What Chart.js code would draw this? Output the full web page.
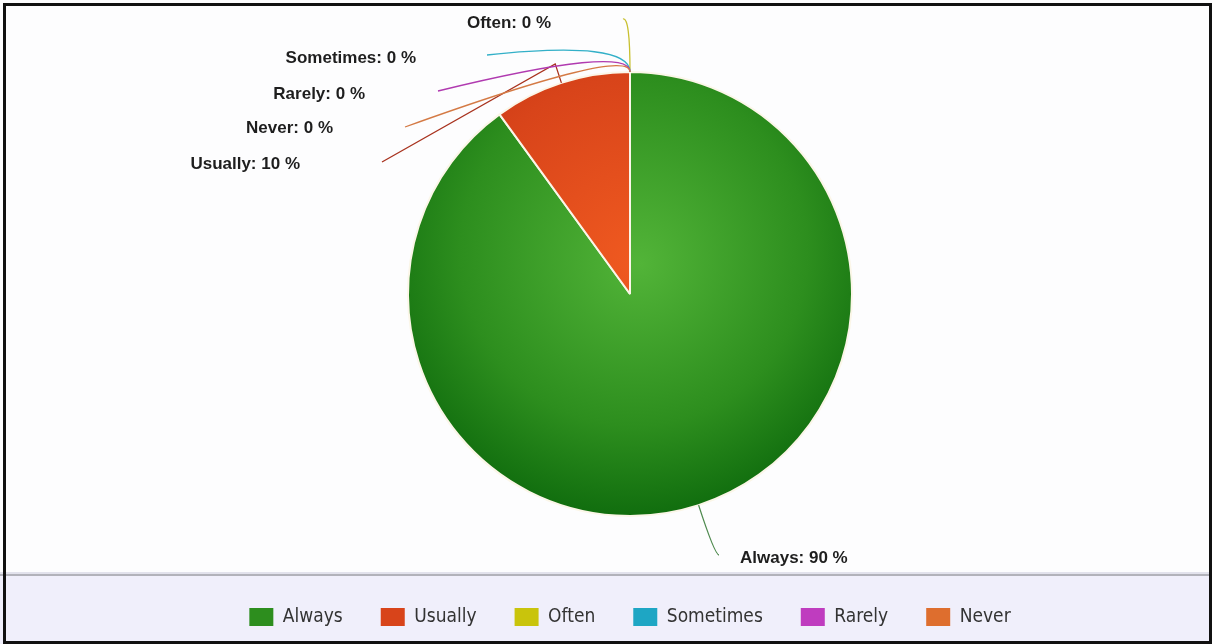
<!DOCTYPE html>
<html>
<head>
<meta charset="utf-8">
<script src="https://cdn.jsdelivr.net/npm/chart.js@4.4.0/dist/chart.umd.min.js"></script>
<style>
  html, body { margin: 0; padding: 0; background: #fff; }
  #wrap { width: 1212px; height: 644px; }
</style>
</head>
<body>
<div id="wrap"><canvas id="pieChart" width="1212" height="644"></canvas></div>
<script>
const categories = ['Always', 'Usually', 'Often', 'Sometimes', 'Rarely', 'Never'];
const percentValues = [90, 10, 0, 0, 0, 0];

const sliceColors = ['#2d8e1e', '#d8441a', '#c9c40c', '#1ea6c4', '#bf3cbf', '#de6e2e'];
const sliceInner = ['#52b438', '#f05a20', '#e0dc30', '#40c0dc', '#d860d8', '#f08848'];
const sliceOuter = ['#0b670b', '#c0300e', '#a8a000', '#10809c', '#982898', '#b85018'];
const lineColors = ['#4f8a4f', '#a8321e', '#c8c030', '#33b0c8', '#b03ab0', '#d47a45'];

// where each label sits, measured from the pie centre
const labelSpots = [
  { tx: 110, ty: 264, align: 'left', ex: 89, ey: 261, bend: 52 },
  { tx: -330, ty: -130, align: 'right', ex: -248, ey: -132, bend: 20, kink: true },
  { tx: -79, ty: -271, align: 'right', ex: -7, ey: -275, bend: 55 },
  { tx: -214, ty: -236, align: 'right', ex: -143, ey: -239, bend: 32 },
  { tx: -265, ty: -200, align: 'right', ex: -192, ey: -203, bend: 28 },
  { tx: -297, ty: -166, align: 'right', ex: -225, ey: -167, bend: 26 },
];

function sliceFill(context) {
  const { chart, dataIndex } = context;
  const area = chart.chartArea;
  if (!area) return sliceColors[dataIndex];
  const cx = (area.left + area.right) / 2;
  const cy = (area.top + area.bottom) / 2;
  const g = chart.ctx.createRadialGradient(cx + 10, cy - 30, 0, cx, cy - 50, 290);
  g.addColorStop(0, sliceInner[dataIndex]);
  g.addColorStop(0.6, sliceColors[dataIndex]);
  g.addColorStop(1, sliceOuter[dataIndex]);
  return g;
}

const framePlugin = {
  id: 'frame',
  beforeDraw(chart) {
    const { ctx, width, height } = chart;
    ctx.save();
    ctx.fillStyle = '#fdfdfe';
    ctx.fillRect(0, 0, width, height);
    // legend band
    ctx.fillStyle = '#f0effb';
    ctx.fillRect(0, 576, width, height - 576);
    ctx.fillStyle = '#e2e2ec';
    ctx.fillRect(0, 572, width, 2);
    ctx.fillStyle = '#b2b2ba';
    ctx.fillRect(0, 574, width, 2);
    // outer black frame
    ctx.fillStyle = '#111';
    ctx.fillRect(3, 3, width - 3, 3);
    ctx.fillRect(3, 3, 3, height - 3);
    ctx.fillRect(width - 3, 3, 3, height - 3);
    ctx.fillRect(3, height - 3, width - 3, 3);
    ctx.restore();
  },
};

const leaderPlugin = {
  id: 'leaders',
  afterDatasetsDraw(chart) {
    const { ctx } = chart;
    const arcs = chart.getDatasetMeta(0).data;
    ctx.save();
    ctx.font = 'bold 17px "Liberation Sans", Arial, sans-serif';
    ctx.textBaseline = 'middle';
    arcs.forEach((arc, i) => {
      const spot = labelSpots[i];
      const { x, y, startAngle, endAngle, outerRadius } = arc.getProps(['x', 'y', 'startAngle', 'endAngle', 'outerRadius'], true);
      const mid = (startAngle + endAngle) / 2;
      const ux = Math.cos(mid);
      const uy = Math.sin(mid);
      const sx = x + ux * outerRadius;
      const sy = y + uy * outerRadius;
      const kx = sx + ux * spot.bend;
      const ky = sy + uy * spot.bend;
      const ex = x + spot.ex;
      const ey = y + spot.ey;
      ctx.beginPath();
      ctx.moveTo(sx, sy);
      if (spot.kink) {
        ctx.lineTo(kx, ky);
        ctx.lineTo(ex, ey);
      } else {
        ctx.quadraticCurveTo(kx, ky, ex, ey);
      }
      ctx.strokeStyle = lineColors[i];
      ctx.lineWidth = 1.3;
      ctx.stroke();
      ctx.fillStyle = '#1e1e1e';
      ctx.textAlign = spot.align;
      ctx.fillText(`${categories[i]}: ${percentValues[i]} %`, x + spot.tx, y + spot.ty);
    });
    ctx.restore();
  },
};

const ctx = document.getElementById('pieChart').getContext('2d');
new Chart(ctx, {
  type: 'pie',
  data: {
    labels: categories,
    datasets: [{
      data: percentValues,
      backgroundColor: sliceFill,
      borderColor: '#fbf6e8',
      borderWidth: 2,
    }],
  },
  options: {
    responsive: false,
    animation: false,
    radius: 222,
    layout: { padding: { top: 18.5, bottom: 7.5, left: 48, right: 0 } },
    plugins: {
      legend: {
        position: 'bottom',
        labels: {
          boxWidth: 24,
          boxHeight: 18,
          padding: 38,
          color: '#333',
          font: { family: '"DejaVu Sans Condensed", "DejaVu Sans", sans-serif', size: 19 },
          generateLabels(chart) {
            const items = Chart.overrides.pie.plugins.legend.labels.generateLabels(chart);
            items.forEach((item, i) => {
              item.fillStyle = sliceColors[i];
              item.strokeStyle = sliceColors[i];
              item.lineWidth = 0;
            });
            return items;
          },
        },
      },
      tooltip: { enabled: false },
    },
  },
  plugins: [framePlugin, leaderPlugin],
});
</script>
</body>
</html>
